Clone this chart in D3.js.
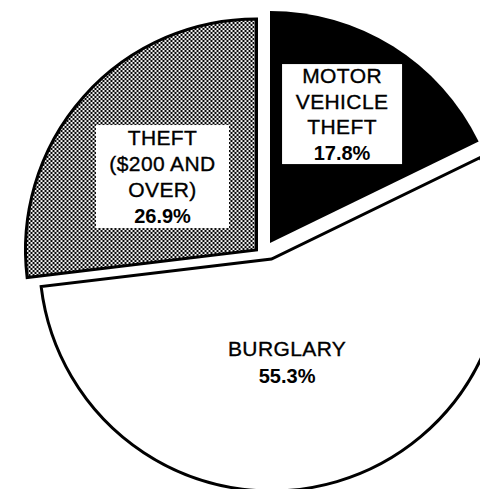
<!DOCTYPE html>
<html>
<head>
<meta charset="utf-8">
<script src="https://cdn.jsdelivr.net/npm/d3@7"></script>
<style>
  html, body { margin: 0; padding: 0; background: #fff; }
  svg { display: block; }
  text { font-family: "Liberation Sans", Arial, Helvetica, sans-serif; fill: #000; }
</style>
</head>
<body>
<svg id="chart" width="480" height="489"></svg>
<script>
// ---- data ----
const categories = ["MOTOR VEHICLE THEFT", "BURGLARY", "THEFT ($200 AND OVER)"];
const values = [17.8, 55.3, 26.9];
const nameLines = [["MOTOR", "VEHICLE", "THEFT"], ["BURGLARY"], ["THEFT", "($200 AND", "OVER)"]];
const percentLabels = ["17.8%", "55.3%", "26.9%"];

// ---- layout / style ----
const W = 480, H = 489;
const base = [264, 250];
const radius = [232, 232, 231];
const explode = [[6, -7], [7.5, 9], [-7.5, 0]];
const fills = ["#000", "#fff", "url(#stipple)"];
const strokes = ["none", "#000", "#000"];
// label placement: [angle in degrees (clockwise from 12 o'clock), distance]
const labelPolar = [[29.2, 147.7], [171.4, 104.2], [-52.0, 119.3]];
const labelBoxes = [[120, 100], null, [133, 103]];
const lineGap = [25.4, 27, 26];

const svg = d3.select("#chart");
svg.append("rect").attr("width", W).attr("height", H).attr("fill", "#fff");

const defs = svg.append("defs");
const pat = defs.append("pattern")
  .attr("id", "stipple").attr("patternUnits", "userSpaceOnUse")
  .attr("width", 4).attr("height", 4);
pat.append("rect").attr("width", 4).attr("height", 4).attr("fill", "#fff");
pat.append("circle").attr("cx", 1).attr("cy", 1).attr("r", 1.2).attr("fill", "#000");
pat.append("circle").attr("cx", 3).attr("cy", 3).attr("r", 1.2).attr("fill", "#000");

const pie = d3.pie().sort(null).startAngle(0).endAngle(2 * Math.PI);
const arcs = pie(values);

const g = svg.selectAll("g.slice").data(arcs).join("g")
  .attr("class", "slice")
  .attr("transform", (d, i) => `translate(${base[0] + explode[i][0]},${base[1] + explode[i][1]})`);

g.append("path")
  .attr("d", (d, i) => d3.arc().innerRadius(0).outerRadius(radius[i])(d))
  .attr("fill", (d, i) => fills[i])
  .attr("stroke", (d, i) => strokes[i])
  .attr("stroke-width", 3)
  .attr("stroke-linejoin", "miter");

g.each(function (d, i) {
  const a = labelPolar[i][0] * Math.PI / 180, r = labelPolar[i][1];
  const lx = r * Math.sin(a), ly = -r * Math.cos(a);
  const lg = d3.select(this).append("g").attr("transform", `translate(${lx},${ly})`);
  if (labelBoxes[i]) {
    const [bw, bh] = labelBoxes[i];
    lg.append("rect").attr("x", -bw / 2).attr("y", -bh / 2)
      .attr("width", bw).attr("height", bh).attr("fill", "#fff");
  }
  const lines = nameLines[i].map(t => ({ t, bold: false })).concat([{ t: percentLabels[i], bold: true }]);
  const n = lines.length, gap = lineGap[i];
  lines.forEach((ln, k) => {
    const y = (k - (n - 1) / 2) * gap + 7.5;
    lg.append("text")
      .attr("x", 0).attr("y", y)
      .attr("text-anchor", "middle")
      .attr("font-size", ln.bold ? 20 : 21)
      .attr("font-weight", ln.bold ? "bold" : "normal")
      .attr("letter-spacing", ln.bold ? 0 : 0.4)
      .attr("stroke", ln.bold ? "none" : "#000")
      .attr("stroke-width", ln.bold ? 0 : 0.35)
      .text(ln.t);
  });
});
</script>
</body>
</html>
